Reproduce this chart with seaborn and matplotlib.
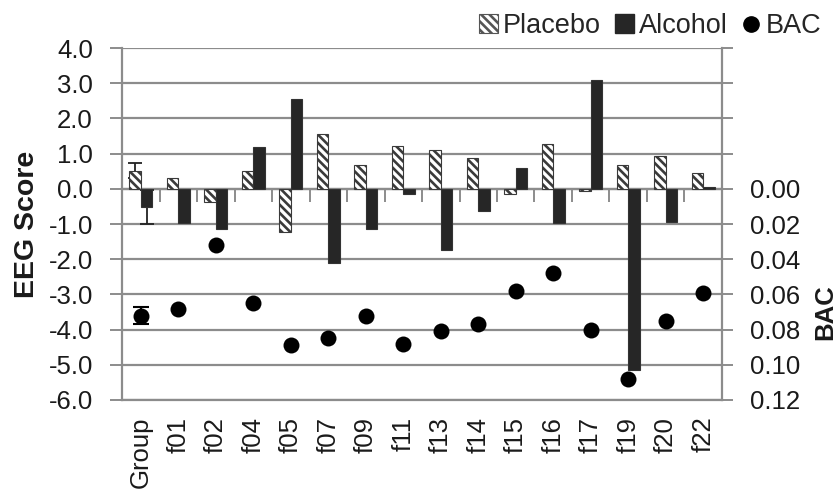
import numpy as np
import pandas as pd
import matplotlib
matplotlib.use("Agg")
import matplotlib.pyplot as plt
from matplotlib.patches import Patch
from matplotlib.lines import Line2D
from matplotlib.ticker import FixedLocator
import seaborn as sns

subjects = ["Group", "f01", "f02", "f04", "f05", "f07", "f09", "f11",
            "f13", "f14", "f15", "f16", "f17", "f19", "f20", "f22"]
placebo = [0.52, 0.31, -0.36, 0.52, -1.23, 1.55, 0.68, 1.23,
           1.09, 0.88, -0.14, 1.28, -0.05, 0.68, 0.92, 0.46]
alcohol = [-0.52, -0.97, -1.14, 1.19, 2.56, -2.12, -1.14, -0.14,
           -1.74, -0.63, 0.59, -0.97, 3.09, -5.16, -0.93, 0.06]
bac = [0.072, 0.068, 0.032, 0.065, 0.089, 0.085, 0.072, 0.088,
       0.081, 0.077, 0.058, 0.048, 0.080, 0.108, 0.075, 0.059]
group_err_placebo = 0.21
group_err_alcohol = 0.48
group_err_bac = 0.0047
eeg_ticks = [4.0, 3.0, 2.0, 1.0, 0.0, -1.0, -2.0, -3.0, -4.0, -5.0, -6.0]
bac_ticks = [-0.08, -0.06, -0.04, -0.02, 0.00, 0.02, 0.04, 0.06, 0.08, 0.10, 0.12]

sns.set_theme(style="white")
plt.rcParams["font.family"] = ["Liberation Sans", "DejaVu Sans"]
plt.rcParams["hatch.linewidth"] = 1.9

GRID = "#8c8c8c"
TXT = "#1a1a1a"
DARK = "#262626"
FS = 18.5

df = pd.DataFrame({
    "subject": subjects * 2,
    "score": placebo + alcohol,
    "condition": ["Placebo"] * len(subjects) + ["Alcohol"] * len(subjects),
})
bac_df = pd.DataFrame({"subject": subjects, "bac": bac})

fig = plt.figure(figsize=(8.36, 5.01), dpi=100)
ax = fig.add_axes([0.146, 0.2016, 0.7176, 0.7024])

sns.barplot(data=df, x="subject", y="score", hue="condition", order=subjects,
            hue_order=["Placebo", "Alcohol"],
            palette={"Placebo": "white", "Alcohol": DARK},
            width=0.62, edgecolor="#333333", linewidth=0.8, errorbar=None,
            legend=False, ax=ax, zorder=3)

pl_cont, al_cont = ax.containers[0], ax.containers[1]
for p in pl_cont:
    p.set_hatch("\\\\\\\\")
    p.set_edgecolor("#3a3a3a")

# group error bars (drawn beneath bars)
pb = pl_cont[0]
abar = al_cont[0]
ax.errorbar([pb.get_x() + pb.get_width() / 2], [placebo[0]], yerr=group_err_placebo,
            fmt="none", ecolor="#222222", elinewidth=1.3, capsize=5, capthick=1.3, zorder=2)
ax.errorbar([abar.get_x() + abar.get_width() / 2], [alcohol[0]], yerr=group_err_alcohol,
            fmt="none", ecolor="#222222", elinewidth=1.3, capsize=5, capthick=1.3, zorder=2)

ax.set_ylim(-6.0, 4.0)
ax.set_xlim(-0.5, len(subjects) - 0.5)
ax.yaxis.set_major_locator(FixedLocator(eeg_ticks))
ax.set_yticklabels([f"{t:.1f}" for t in eeg_ticks])
ax.yaxis.grid(True, color=GRID, linewidth=1.6)
ax.set_axisbelow(True)
ax.tick_params(axis="y", which="major", direction="out", length=9, width=1.4,
               color=GRID, labelsize=FS, labelcolor=TXT, pad=12, left=True)
ax.tick_params(axis="x", length=0, labelsize=FS, labelcolor=TXT, labelrotation=90, pad=12)
ax.set_xlabel("")
ax.set_ylabel("EEG Score", fontsize=20.5, fontweight="bold", color=TXT, labelpad=6)
for s in ["left", "bottom"]:
    ax.spines[s].set_color(GRID)
    ax.spines[s].set_linewidth(1.6)
ax.spines["top"].set_visible(False)
ax.spines["right"].set_visible(False)

# zero category axis with boundary ticks
sec = ax.secondary_xaxis(0.6)
sec.set_alignment("bottom")
sec.set_xticks(np.arange(len(subjects) + 1) - 0.5)
sec.set_xticklabels([])
sec.tick_params(axis="x", direction="out", length=9, width=1.4, color=GRID)
sec.spines["bottom"].set_color(GRID)
sec.spines["bottom"].set_linewidth(1.6)

# BAC on right axis
ax2 = ax.twinx()
sns.stripplot(data=bac_df, x="subject", y="bac", order=subjects, jitter=False,
              color="black", size=11.5, linewidth=0, ax=ax2, zorder=5)
ax2.errorbar([0], [bac[0]], yerr=group_err_bac, fmt="none", ecolor="black",
             elinewidth=1.5, capsize=6, capthick=1.5, zorder=6)
ax2.set_ylim(0.12, -0.08)
ax2.set_xlim(-0.5, len(subjects) - 0.5)
ax2.yaxis.set_major_locator(FixedLocator(bac_ticks))
ax2.set_yticklabels([f"{t:.2f}" if t >= 0 else "" for t in bac_ticks])
ax2.tick_params(axis="y", direction="out", length=8, width=1.4, color=GRID,
                labelsize=FS, labelcolor=TXT, pad=12, right=True)
ax2.set_ylabel("BAC", fontsize=18.5, fontweight="bold", color=TXT)
ax2.yaxis.set_label_coords(1.152, 0.25)
ax2.grid(False)
for s in ["left", "top", "bottom"]:
    ax2.spines[s].set_visible(False)
ax2.spines["right"].set_color(GRID)
ax2.spines["right"].set_linewidth(1.6)

handles = [
    Patch(facecolor="white", edgecolor="#555555", hatch="\\\\\\\\", linewidth=0.8),
    Patch(facecolor=DARK, edgecolor=DARK),
    Line2D([], [], marker="o", linestyle="none", color="black", markersize=11),
]
fig.legend(handles, ["Placebo", "Alcohol", "BAC"], loc="upper right",
           bbox_to_anchor=(1.007, 1.014), ncol=3, frameon=False, fontsize=19.5,
           handlelength=0.7, handleheight=0.7, handletextpad=0.2,
           columnspacing=0.5, borderpad=0.25)

fig.savefig("out.png", dpi=100, facecolor="white")
